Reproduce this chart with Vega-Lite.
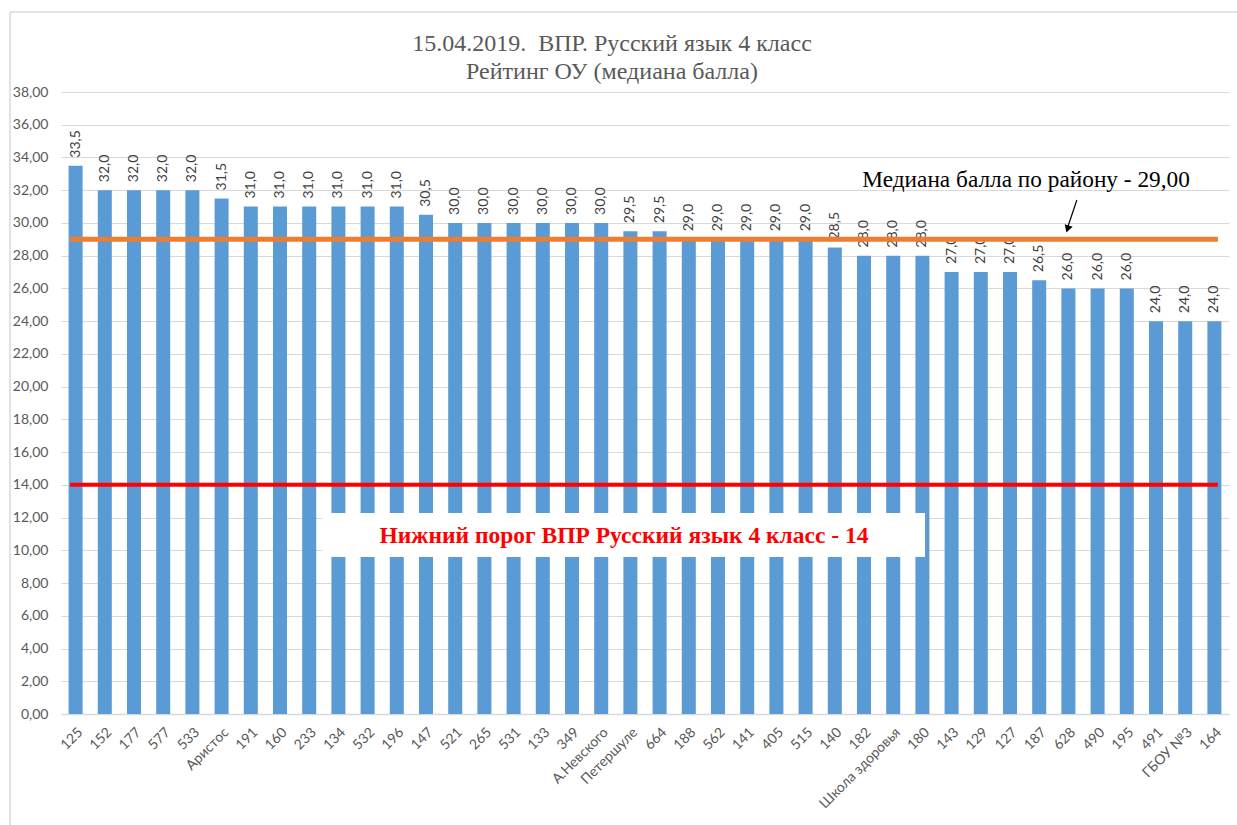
{
  "$schema": "https://vega.github.io/schema/vega-lite/v6.json",
  "autosize": {"type": "none"},
  "width": 1168,
  "height": 622,
  "padding": {"left": 61, "top": 92, "right": 8, "bottom": 111},
  "background": "white",
  "title": {
    "text": ["15.04.2019.\u00a0 ВПР. Русский язык 4 класс", "Рейтинг ОУ (медиана балла)"],
    "font": "Liberation Serif",
    "fontSize": 24,
    "fontWeight": "normal",
    "color": "#595959",
    "lineHeight": 28,
    "offset": -73,
    "anchor": "middle",
    "frame": "group",
    "dx": -33
  },
  "config": {
    "locale": {"number": {"decimal": ",", "thousands": " ", "grouping": [3], "currency": ["", " ₽"]}},
    "view": {"stroke": null},
    "axis": {"labelFont": "Lato", "labelColor": "#595959", "labelFontSize": 14}
  },
  "layer": [
    {
      "data": {"values": [
        {"school": "125", "value": 33.5},
        {"school": "152", "value": 32},
        {"school": "177", "value": 32},
        {"school": "577", "value": 32},
        {"school": "533", "value": 32},
        {"school": "Аристос", "value": 31.5},
        {"school": "191", "value": 31},
        {"school": "160", "value": 31},
        {"school": "233", "value": 31},
        {"school": "134", "value": 31},
        {"school": "532", "value": 31},
        {"school": "196", "value": 31},
        {"school": "147", "value": 30.5},
        {"school": "521", "value": 30},
        {"school": "265", "value": 30},
        {"school": "531", "value": 30},
        {"school": "133", "value": 30},
        {"school": "349", "value": 30},
        {"school": "А.Невского", "value": 30},
        {"school": "Петершуле", "value": 29.5},
        {"school": "664", "value": 29.5},
        {"school": "188", "value": 29},
        {"school": "562", "value": 29},
        {"school": "141", "value": 29},
        {"school": "405", "value": 29},
        {"school": "515", "value": 29},
        {"school": "140", "value": 28.5},
        {"school": "182", "value": 28},
        {"school": "Школа здоровья", "value": 28},
        {"school": "180", "value": 28},
        {"school": "143", "value": 27},
        {"school": "129", "value": 27},
        {"school": "127", "value": 27},
        {"school": "187", "value": 26.5},
        {"school": "628", "value": 26},
        {"school": "490", "value": 26},
        {"school": "195", "value": 26},
        {"school": "491", "value": 24},
        {"school": "ГБОУ №3", "value": 24},
        {"school": "164", "value": 24}
      ]},
      "encoding": {
        "x": {
          "field": "school",
          "type": "nominal",
          "sort": null,
          "scale": {"paddingInner": 0.52, "paddingOuter": 0.26},
          "axis": {
            "title": null,
            "labelAngle": -45,
            "labelPadding": 11,
            "labelOverlap": false,
            "ticks": false,
            "domain": true,
            "domainColor": "#D9D9D9",
            "domainWidth": 1.5,
            "grid": false
          }
        },
        "y": {
          "field": "value",
          "type": "quantitative",
          "scale": {"domain": [0, 38], "nice": false},
          "axis": {
            "title": null,
            "values": [0, 2, 4, 6, 8, 10, 12, 14, 16, 18, 20, 22, 24, 26, 28, 30, 32, 34, 36, 38],
            "format": ".2f",
            "labelOverlap": false,
            "labelFlush": false,
            "domain": false,
            "ticks": false,
            "labelPadding": 13,
            "grid": true,
            "gridColor": "#D9D9D9",
            "gridWidth": 1
          }
        }
      },
      "layer": [
        {"mark": {"type": "bar", "color": "#5B9BD5"}},
        {
          "mark": {"type": "text", "angle": 270, "align": "left", "baseline": "middle", "dx": 8, "font": "Lato", "fontSize": 14, "color": "#404040"},
          "encoding": {"text": {"field": "value", "type": "quantitative", "format": ".1f"}}
        }
      ]
    },
    {
      "data": {"values": [{}]},
      "mark": {"type": "rule", "color": "#D9D9D9", "strokeWidth": 1.5},
      "encoding": {
        "x": {"datum": -1.747, "type": "quantitative", "scale": {"domain": [0, 40]}, "axis": null},
        "y": {"datum": 42.89, "type": "quantitative", "axis": null},
        "y2": {"datum": -8}
      }
    },
    {
      "data": {"values": [{}]},
      "mark": {"type": "rule", "color": "#D9D9D9", "strokeWidth": 1.5},
      "encoding": {
        "x": {"datum": -1.747, "type": "quantitative", "scale": {"domain": [0, 40]}, "axis": null},
        "x2": {"datum": 41},
        "y": {"datum": 42.89, "type": "quantitative", "axis": null}
      }
    },
    {
      "data": {"values": [{}]},
      "mark": {"type": "rule", "color": "#ED7D31", "strokeWidth": 5},
      "encoding": {
        "x": {"datum": 0.31, "type": "quantitative", "scale": {"domain": [0, 40]}, "axis": null},
        "x2": {"datum": 39.62},
        "y": {"datum": 29, "type": "quantitative", "axis": null}
      }
    },
    {
      "data": {"values": [{}]},
      "mark": {"type": "rule", "color": "#FF0000", "strokeWidth": 4},
      "encoding": {
        "x": {"datum": 0.31, "type": "quantitative", "scale": {"domain": [0, 40]}, "axis": null},
        "x2": {"datum": 39.62},
        "y": {"datum": 14, "type": "quantitative", "axis": null}
      }
    },
    {
      "data": {"values": [{}]},
      "mark": {"type": "rect", "fill": "white"},
      "encoding": {
        "x": {"datum": 8.94, "type": "quantitative", "scale": {"domain": [0, 40]}, "axis": null},
        "x2": {"datum": 29.59},
        "y": {"datum": 12.28, "type": "quantitative", "axis": null},
        "y2": {"datum": 9.59}
      }
    },
    {
      "data": {"values": [{}]},
      "mark": {"type": "text", "font": "Liberation Serif", "fontWeight": "bold", "fontSize": 23.5, "color": "#FF0000", "align": "center", "baseline": "middle", "text": "Нижний порог ВПР Русский язык 4 класс - 14"},
      "encoding": {
        "x": {"datum": 19.28, "type": "quantitative", "scale": {"domain": [0, 40]}, "axis": null},
        "y": {"datum": 10.9, "type": "quantitative", "axis": null}
      }
    },
    {
      "data": {"values": [{}]},
      "mark": {"type": "text", "font": "Liberation Serif", "fontSize": 23.3, "color": "#000000", "align": "center", "baseline": "middle", "text": "Медиана балла по району - 29,00"},
      "encoding": {
        "x": {"datum": 33.05, "type": "quantitative", "scale": {"domain": [0, 40]}, "axis": null},
        "y": {"datum": 32.6, "type": "quantitative", "axis": null}
      }
    },
    {
      "data": {"values": [{}]},
      "mark": {"type": "rule", "color": "#000000", "strokeWidth": 1.2},
      "encoding": {
        "x": {"datum": 34.79, "type": "quantitative", "scale": {"domain": [0, 40]}, "axis": null},
        "x2": {"datum": 34.49},
        "y": {"datum": 31.4, "type": "quantitative", "axis": null},
        "y2": {"datum": 29.81}
      }
    },
    {
      "data": {"values": [{}]},
      "mark": {"type": "point", "shape": "triangle-down", "filled": true, "color": "#000000", "opacity": 1, "size": 70, "angle": 18},
      "encoding": {
        "x": {"datum": 34.47, "type": "quantitative", "scale": {"domain": [0, 40]}, "axis": null},
        "y": {"datum": 29.63, "type": "quantitative", "axis": null}
      }
    }
  ],
  "resolve": {"scale": {"x": "independent"}, "axis": {"y": "independent"}}
}
